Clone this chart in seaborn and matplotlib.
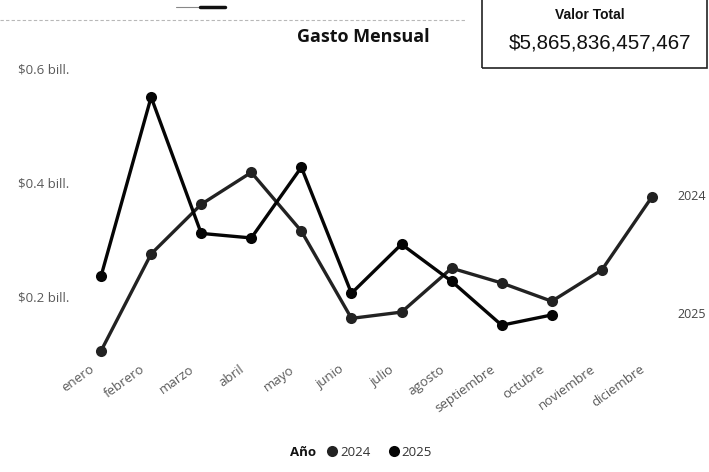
import matplotlib
matplotlib.use("Agg")
import matplotlib.pyplot as plt
from matplotlib.lines import Line2D
from matplotlib.patches import Rectangle
from matplotlib.transforms import ScaledTranslation
import pandas as pd
import seaborn as sns

meses = ["enero", "febrero", "marzo", "abril", "mayo", "junio", "julio",
         "agosto", "septiembre", "octubre", "noviembre", "diciembre"]
gasto_2024 = [0.104, 0.274, 0.361, 0.417, 0.314, 0.161, 0.172, 0.249, 0.223, 0.191, 0.246, 0.374]
gasto_2025 = [0.235, 0.549, 0.310, 0.302, 0.426, 0.205, 0.291, 0.226, 0.149, 0.167]
anios = ["2024", "2025"]
yticks = [0.2, 0.4, 0.6]
ytick_labels = ["$0.2 bill.", "$0.4 bill.", "$0.6 bill."]
valor_total = "$5,865,836,457,467"

df = pd.DataFrame({
    "Mes": meses + meses[:len(gasto_2025)],
    "Gasto": gasto_2024 + gasto_2025,
    "Año": [anios[0]] * len(gasto_2024) + [anios[1]] * len(gasto_2025),
})

sns.set_theme(style="white")
plt.rcParams["font.family"] = ["Open Sans", "DejaVu Sans"]

colores = {"2024": "#222222", "2025": "#050505"}

W, H = 709, 472
fig = plt.figure(figsize=(W / 100, H / 100), dpi=100)
ax = fig.add_axes([76 / W, 1 - 360 / H, 601 / W, (360 - 56.6) / H])

sns.lineplot(data=df, x="Mes", y="Gasto", hue="Año", palette=colores,
             marker="o", markersize=8, markeredgewidth=0, linewidth=2.4,
             sort=False, legend=False, ax=ax)

ax.set_xlim(-0.5, 11.5)
ax.set_ylim(0.088, 0.62)
ax.set_xlabel("")
ax.set_ylabel("")
for s in ax.spines.values():
    s.set_visible(False)
ax.grid(False)

ax.set_yticks(yticks)
ax.set_yticklabels(ytick_labels)
ax.tick_params(axis="y", length=0, pad=5, labelsize=9.5, labelcolor="#5a5a5a")
ax.tick_params(axis="x", length=0, pad=2, labelsize=9.5, labelcolor="#5a5a5a")
shift = ScaledTranslation(-12 / 100, 0, fig.dpi_scale_trans)
for lbl in ax.get_xticklabels():
    lbl.set_rotation(36)
    lbl.set_ha("right")
    lbl.set_rotation_mode("anchor")
    lbl.set_transform(lbl.get_transform() + shift)

# Series labels at the right margin, level with each line's last point
finales = {"2024": gasto_2024[-1], "2025": gasto_2025[-1]}
for anio, yv in finales.items():
    ax.annotate(anio, xy=(11.5, yv), xycoords="data", xytext=(0.5, 0),
                textcoords="offset points", ha="left", va="center",
                fontsize=9, color="#444444", annotation_clip=False)

# Title
fig.text(363 / W, 1 - 37 / H, "Gasto Mensual", ha="center", va="center",
         fontsize=13, fontweight="bold", color="#111111")

# Total value card
fig.add_artist(Rectangle((482 / W, 1 - 68 / H), 225 / W, 75 / H,
                         transform=fig.transFigure, fill=False,
                         edgecolor="#222222", linewidth=1.2))
fig.text(590 / W, 1 - 15 / H, "Valor Total", ha="center", va="center",
         fontsize=10, fontweight="bold", family=["Liberation Sans"], color="#111111")
fig.text(600 / W, 1 - 43 / H, valor_total, ha="center", va="center",
         fontsize=14.8, family=["Liberation Sans"], color="#111111")

# Header rule and slicer mark
fig.add_artist(Line2D([0, 465 / W], [1 - 20 / H] * 2, transform=fig.transFigure,
                      color="#b8b8b8", linewidth=0.8, linestyle=(0, (3, 2))))
fig.add_artist(Line2D([176 / W, 200 / W], [1 - 7 / H] * 2, transform=fig.transFigure,
                      color="#888888", linewidth=0.8))
fig.add_artist(Line2D([200 / W, 225 / W], [1 - 7 / H] * 2, transform=fig.transFigure,
                      color="#111111", linewidth=2.5))

# Legend
fig.text(316 / W, 1 - 452 / H, "Año", ha="right", va="center",
         fontsize=9.5, fontweight="bold", color="#111111")
handles = [Line2D([], [], color=colores[a], marker="o", linestyle="none",
                  markersize=8, markeredgewidth=0, label=a) for a in anios]
fig.legend(handles=handles, loc="center left", bbox_to_anchor=(324 / W, 1 - 452 / H),
           ncol=2, frameon=False, fontsize=9.5, handletextpad=0.0,
           columnspacing=1.2, handlelength=1.2, borderpad=0, borderaxespad=0,
           labelcolor="#333333")

fig.savefig("out.png", dpi=100, facecolor="white")
